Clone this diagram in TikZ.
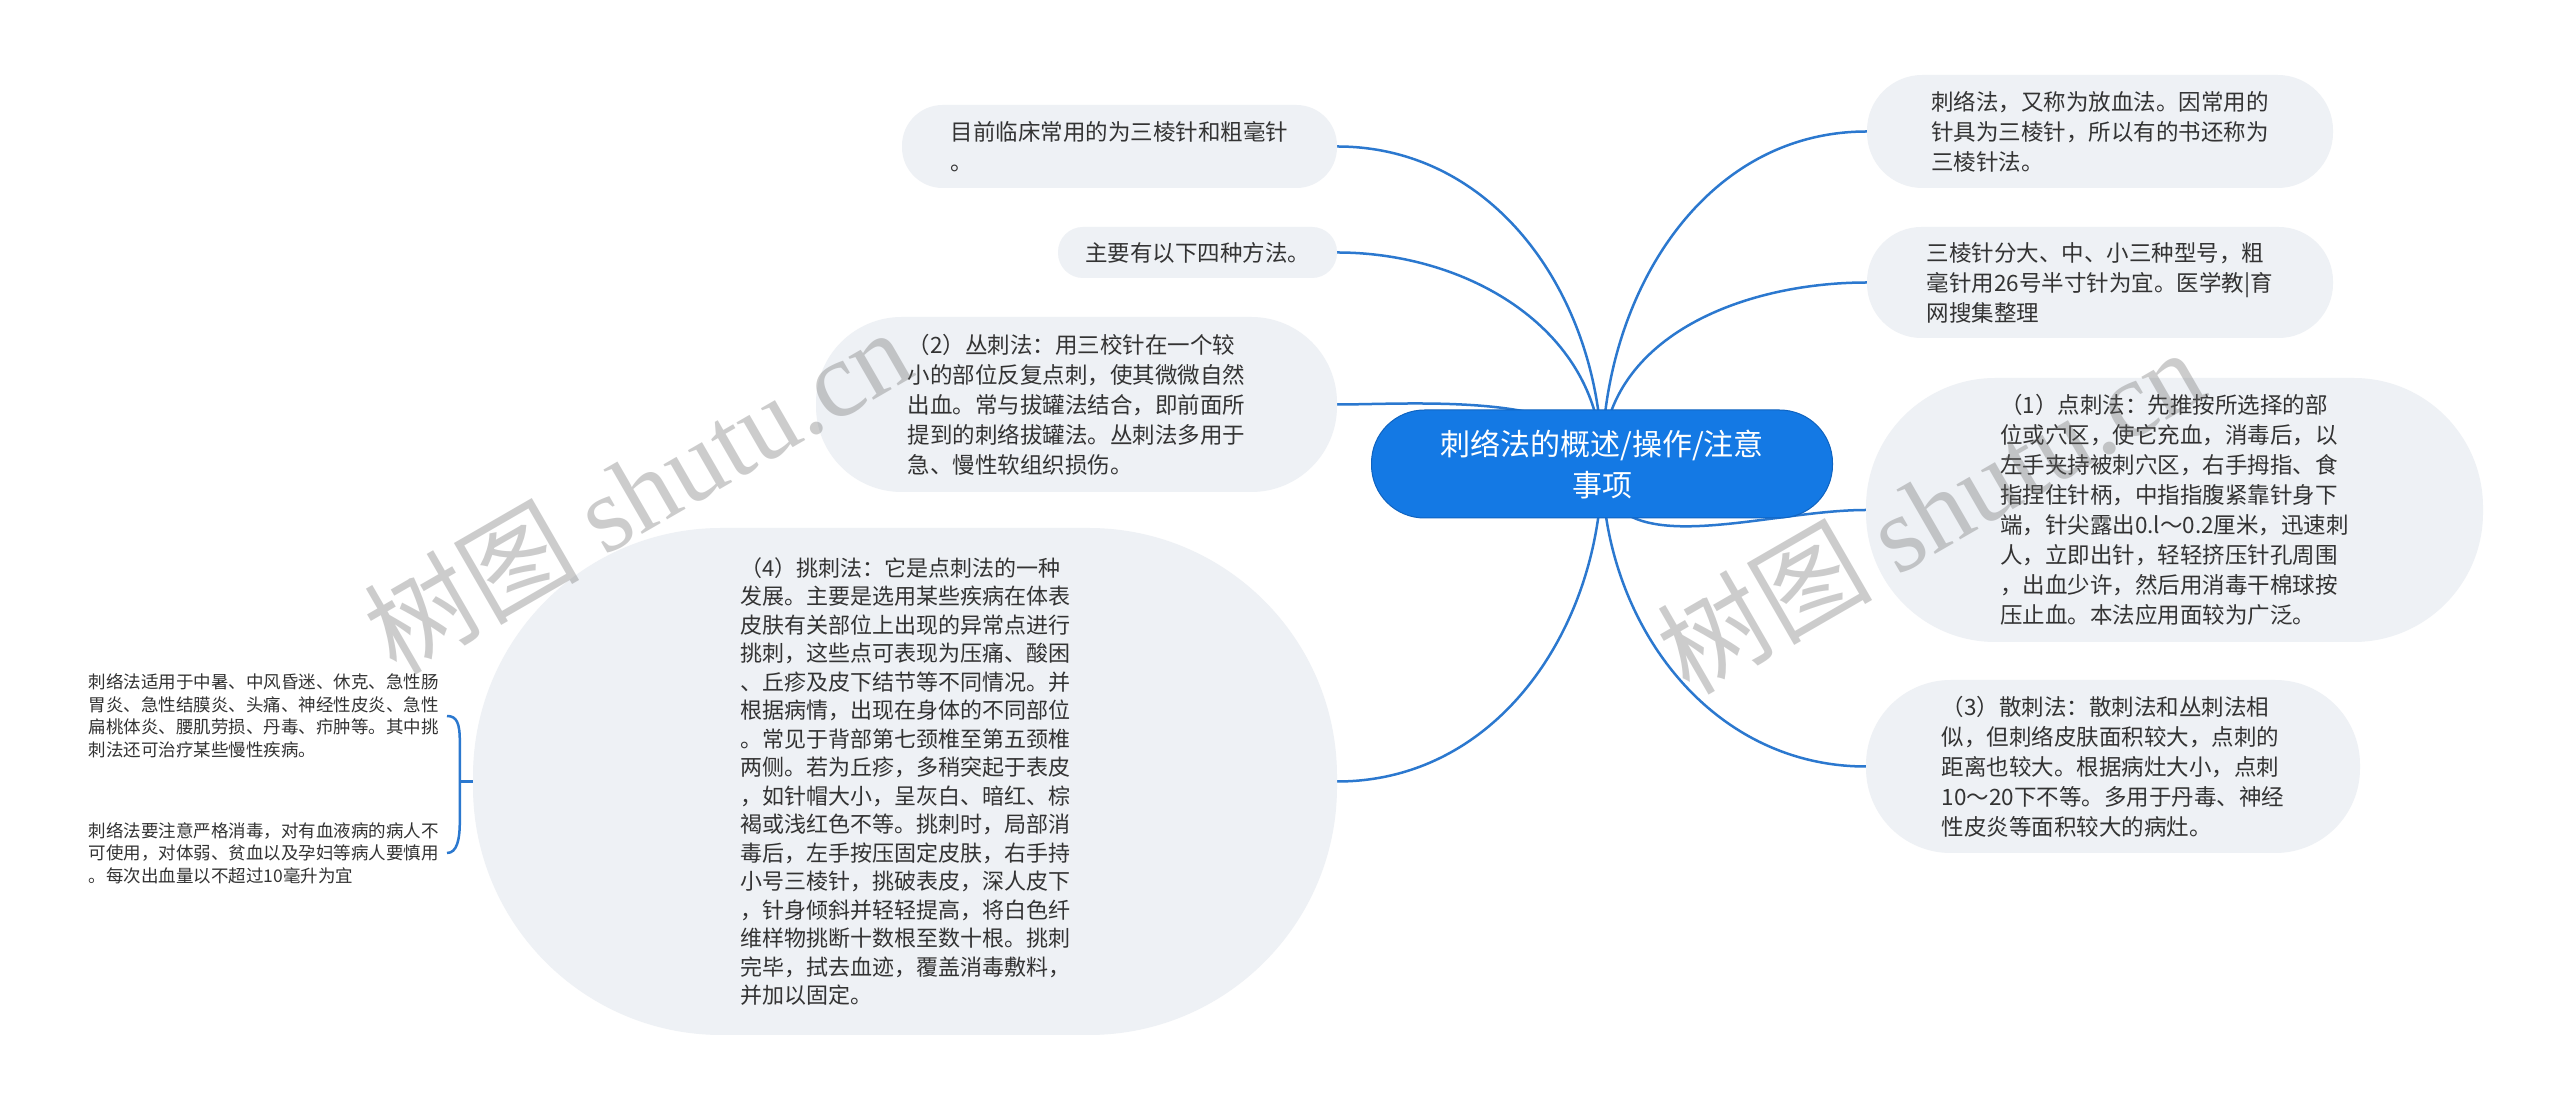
\documentclass[tikz,border=0pt]{standalone}
\usepackage{fontspec}
\setmainfont{Noto Sans CJK SC}
\newfontfamily\wmfont{Liberation Serif}
\usepackage{xcolor}
\usepackage{tikz}
\usetikzlibrary{calc}
\usetikzlibrary{positioning}
\definecolor{rootblue}{HTML}{1479E4}
\definecolor{rootedge}{HTML}{0F63C0}
\definecolor{linkblue}{HTML}{2B78CF}
\definecolor{boxgray}{HTML}{EEF1F5}
\definecolor{inkgray}{HTML}{333333}
\pgfdeclarelayer{canvas}
\pgfdeclarelayer{wires}
\pgfsetlayers{canvas,wires,main}

\begin{document}
\begin{tikzpicture}[x=1pt, y=1pt, on grid,
  root/.style={rectangle, fill=rootblue, draw=rootedge, line width=1pt, text=white, align=center,
    font=\fontsize{30}{41}\selectfont, minimum width=461pt, minimum height=108pt, rounded corners=53pt, inner sep=0pt},
  topic/.style 2 args={rectangle, fill=boxgray, text=inkgray, align=left, font=\fontsize{22.5}{30}\selectfont,
    minimum width=#1, minimum height=#2, rounded corners=0.49*#2, inner sep=0pt},
  note/.style={text=inkgray, align=left, font=\fontsize{17.5}{22.5}\selectfont, inner xsep=8pt, inner ysep=0pt, anchor=east},
  link/.style={draw=linkblue, line width=2.5pt},
  wmark/.style={text=black!60, opacity=0.33, font=\fontsize{108}{108}\selectfont, rotate=30}]
\useasboundingbox (0,0) rectangle (2560,1111);
\begin{pgfonlayer}{canvas}
\fill[white] (0,0) rectangle (2560,1111);
\end{pgfonlayer}

\node[root] (0) at (1602,647) {刺络法的概述/操作/注意\\事项};
% left side
\node[topic={435pt}{83pt}] (L1) [above left=317.5pt and 482.5pt of 0] {目前临床常用的为三棱针和粗毫针\\。};
\node[topic={279pt}{51pt}] (L2) [above left=211.5pt and 404.5pt of 0] {主要有以下四种方法。};
\node[topic={521pt}{175pt}] (L3) [above left=59.5pt and 525.5pt of 0] {（2）丛刺法：用三校针在一个较\\小的部位反复点刺，使其微微自然\\出血。常与拔罐法结合，即前面所\\提到的刺络拔罐法。丛刺法多用于\\急、慢性软组织损伤。};
\node[topic={864pt}{507pt}, font=\fontsize{22}{28.5}\selectfont] (L4) [below left=317.5pt and 697pt of 0] {（4）挑刺法：它是点刺法的一种\\发展。主要是选用某些疾病在体表\\皮肤有关部位上出现的异常点进行\\挑刺，这些点可表现为压痛、酸困\\、丘疹及皮下结节等不同情况。并\\根据病情，出现在身体的不同部位\\。常见于背部第七颈椎至第五颈椎\\两侧。若为丘疹，多稍突起于表皮\\，如针帽大小，呈灰白、暗红、棕\\褐或浅红色不等。挑刺时，局部消\\毒后，左手按压固定皮肤，右手持\\小号三棱针，挑破表皮，深人皮下\\，针身倾斜并轻轻提高，将白色纤\\维样物挑断十数根至数十根。挑刺\\完毕，拭去血迹，覆盖消毒敷料，\\并加以固定。};
% right side
\node[topic={466pt}{113pt}] (R1) [above right=332.5pt and 498pt of 0] {刺络法，又称为放血法。因常用的\\针具为三棱针，所以有的书还称为\\三棱针法。};
\node[topic={466pt}{111pt}] (R2) [above right=181.5pt and 498pt of 0] {三棱针分大、中、小三种型号，粗\\毫针用26号半寸针为宜。医学教|育\\网搜集整理};
\node[topic={617pt}{264pt}] (R3) [below right=46pt and 572.5pt of 0] {（1）点刺法：先推按所选择的部\\位或穴区，使它充血，消毒后，以\\左手夹持被刺穴区，右手拇指、食\\指捏住针柄，中指指腹紧靠针身下\\端，针尖露出0.l～0.2厘米，迅速刺\\人，立即出针，轻轻挤压针孔周围\\，出血少许，然后用消毒干棉球按\\压止血。本法应用面较为广泛。};
\node[topic={494pt}{173pt}] (R4) [below right=302.5pt and 511pt of 0] {（3）散刺法：散刺法和丛刺法相\\似，但刺络皮肤面积较大，点刺的\\距离也较大。根据病灶大小，点刺\\10～20下不等。多用于丹毒、神经\\性皮炎等面积较大的病灶。};
% notes of (4)
\node[note] (N1) at (447,395) {刺络法适用于中暑、中风昏迷、休克、急性肠\\胃炎、急性结膜炎、头痛、神经性皮炎、急性\\扁桃体炎、腰肌劳损、丹毒、疖肿等。其中挑\\刺法还可治疗某些慢性疾病。};
\node[note] (N2) at (447,258) {刺络法要注意严格消毒，对有血液病的病人不\\可使用，对体弱、贫血以及孕妇等病人要慎用\\。每次出血量以不超过10毫升为宜};
\coordinate[left=13pt of L4.west] (br);

\begin{pgfonlayer}{wires}
\path[link]
    (0.center) edge[out=90, in=0] (L1.east)
    (0.center) edge[out=90, in=0] (L2.east)
    (0.center) edge[out=100, in=0, looseness=0.7] (L3.east)
    (0.center) edge[out=-90, in=0] (L4.east)
    (0.center) edge[out=90, in=180] (R1.west)
    (0.center) edge[out=90, in=180] (R2.west)
    (0.center) edge[out=-90, in=180] (R3.west)
    (0.center) edge[out=-90, in=180] (R4.west)
    ;
\end{pgfonlayer}
\draw[link] (br) -- (L4.west);
\draw[link] (N1.east) .. controls +(10,0) and +(0,18) .. ($(br)+(0,40)$) -- ($(br)+(0,-40)$) .. controls +(0,-18) and +(10,0) .. (N2.east);

% watermark
\node[wmark] (W1) at (637,621) {树图 {\wmfont shutu.cn}};
\node[wmark] (W2) at (1930,601) {树图 {\wmfont shutu.cn}};
\end{tikzpicture}
\end{document}
